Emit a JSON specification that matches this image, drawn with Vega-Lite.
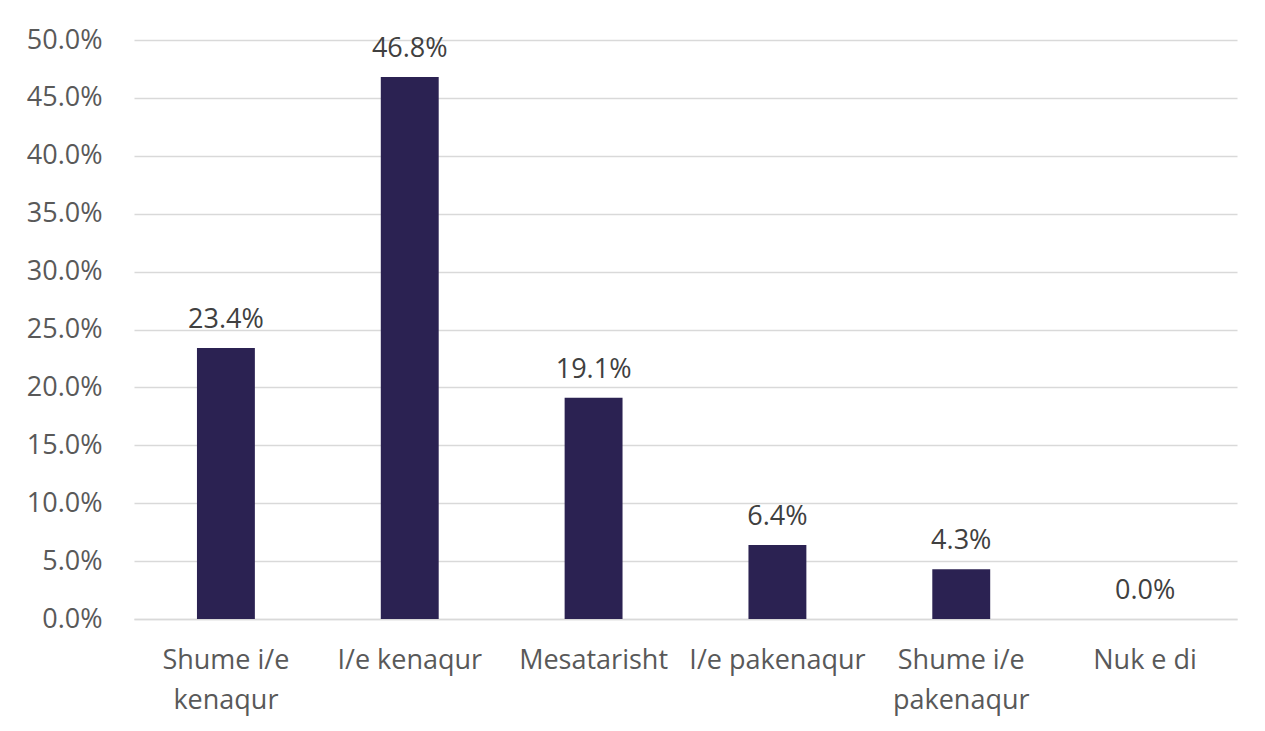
{
  "$schema": "https://vega.github.io/schema/vega-lite/v6.json",
  "width": 1103,
  "height": 579,
  "autosize": "none",
  "padding": {"left": 134, "top": 40, "right": 28, "bottom": 112},
  "background": "white",
  "config": {
    "view": {"stroke": null},
    "font": "Open Sans"
  },
  "data": {
    "values": [
      {"category": "Shume i/e|kenaqur", "value": 0.234},
      {"category": "I/e kenaqur", "value": 0.468},
      {"category": "Mesatarisht", "value": 0.191},
      {"category": "I/e pakenaqur", "value": 0.064},
      {"category": "Shume i/e|pakenaqur", "value": 0.043},
      {"category": "Nuk e di", "value": 0.0}
    ]
  },
  "encoding": {
    "x": {
      "field": "category",
      "type": "nominal",
      "sort": null,
      "scale": {"paddingInner": 0.685, "paddingOuter": 0.3425},
      "axis": {
        "title": null,
        "labelAngle": 0,
        "labelExpr": "split(datum.label, '|')",
        "labelFontSize": 27,
        "labelColor": "#595959",
        "labelPadding": 28,
        "labelLineHeight": 40,
        "labelBaseline": "top",
        "ticks": false,
        "domainColor": "#d9d9d9",
        "domainWidth": 1.5
      }
    },
    "y": {
      "field": "value",
      "type": "quantitative",
      "scale": {"domain": [0, 0.5], "nice": false},
      "axis": {
        "title": null,
        "format": ".1%",
        "values": [0, 0.05, 0.1, 0.15, 0.2, 0.25, 0.3, 0.35, 0.4, 0.45, 0.5],
        "labelFontSize": 27,
        "labelColor": "#595959",
        "labelPadding": 32,
        "ticks": false,
        "domain": false,
        "gridColor": "#d9d9d9",
        "gridWidth": 1.5
      }
    }
  },
  "layer": [
    {"mark": {"type": "bar", "color": "#2b2252"}},
    {
      "mark": {"type": "text", "fontSize": 27, "color": "#404040", "baseline": "alphabetic", "dy": -20},
      "encoding": {"text": {"field": "value", "type": "quantitative", "format": ".1%"}}
    }
  ]
}
